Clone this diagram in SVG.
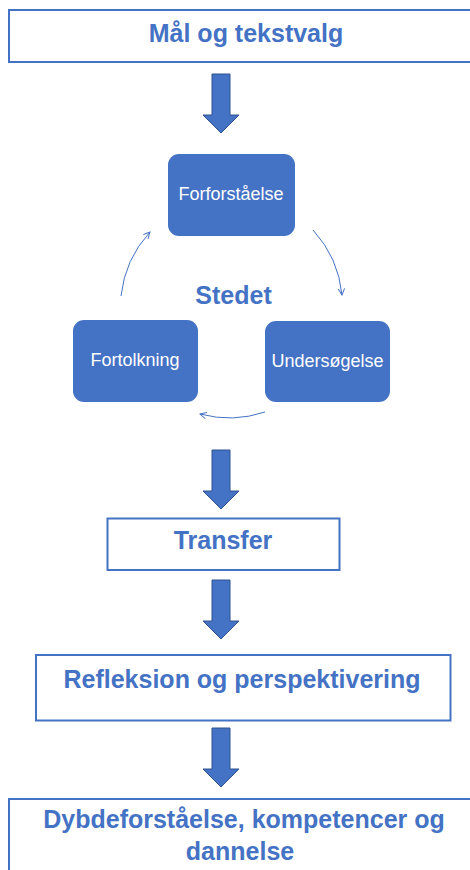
<svg xmlns="http://www.w3.org/2000/svg" width="470" height="870" viewBox="0 0 470 870">
<defs>
<style>
.box{fill:#ffffff;stroke:#4472C4;stroke-width:2}
.rbox{fill:#4472C4;stroke:none}
.ttl{font-family:"Liberation Sans",Arial,sans-serif;font-weight:bold;font-size:25px;fill:#4472C4;text-anchor:middle}
.wt{font-family:"Liberation Sans",Arial,sans-serif;font-size:18px;fill:#ffffff;text-anchor:middle}
.big{fill:#4472C4;stroke:#2F528F;stroke-width:1}
.arc{fill:none;stroke:#4472C4;stroke-width:1}
</style>
<marker id="vh" viewBox="0 0 10 10" refX="9" refY="5" markerWidth="8" markerHeight="8" markerUnits="userSpaceOnUse" orient="auto">
<path d="M1,1 L9,5 L1,9" fill="none" stroke="#4472C4" stroke-width="1.2"/>
</marker>
<path id="dn" d="M-9,0 H9 V41 H18 L0,59 L-18,41 H-9 Z"/>
</defs>
<g id="n-maal">
<rect class="box" x="9" y="10" width="470" height="52"/>
<text class="ttl" x="246" y="42">Mål og tekstvalg</text>
</g>
<g id="n-forforstaaelse">
<rect class="rbox" x="168" y="154" width="127" height="82" rx="11"/>
<text class="wt" x="231" y="200">Forforståelse</text>
</g>
<g id="n-undersoegelse">
<rect class="rbox" x="265" y="321" width="125" height="81" rx="11"/>
<text class="wt" x="327.5" y="366.5" font-size="17">Undersøgelse</text>
</g>
<g id="n-fortolkning">
<rect class="rbox" x="73" y="320" width="125" height="82" rx="11"/>
<text class="wt" x="135" y="366">Fortolkning</text>
</g>
<g id="n-stedet">
<text class="ttl" x="233.5" y="304" font-size="20">Stedet</text>
</g>
<g id="n-transfer">
<rect class="box" x="107.5" y="518.5" width="232" height="51.5"/>
<text class="ttl" x="223" y="549">Transfer</text>
</g>
<g id="n-refleksion">
<rect class="box" x="36" y="655" width="414.5" height="65.5"/>
<text class="ttl" x="242" y="688">Refleksion og perspektivering</text>
</g>
<g id="n-dybde">
<rect class="box" x="9" y="799" width="470" height="80"/>
<text class="ttl" x="244" y="828">Dybdeforståelse, kompetencer og</text>
<text class="ttl" x="240" y="860">dannelse</text>
</g>
<g id="connectors">
<use href="#dn" class="big" x="221" y="74"/>
<use href="#dn" class="big" x="221" y="450"/>
<use href="#dn" class="big" x="221" y="580"/>
<use href="#dn" class="big" x="221" y="728"/>
<path class="arc" d="M313,230 A112,112 0 0 1 342,295" marker-end="url(#vh)"/>
<path class="arc" d="M265,412 A112,112 0 0 1 200,414" marker-end="url(#vh)"/>
<path class="arc" d="M121,296 A112,112 0 0 1 150,232" marker-end="url(#vh)"/>
</g>
</svg>
